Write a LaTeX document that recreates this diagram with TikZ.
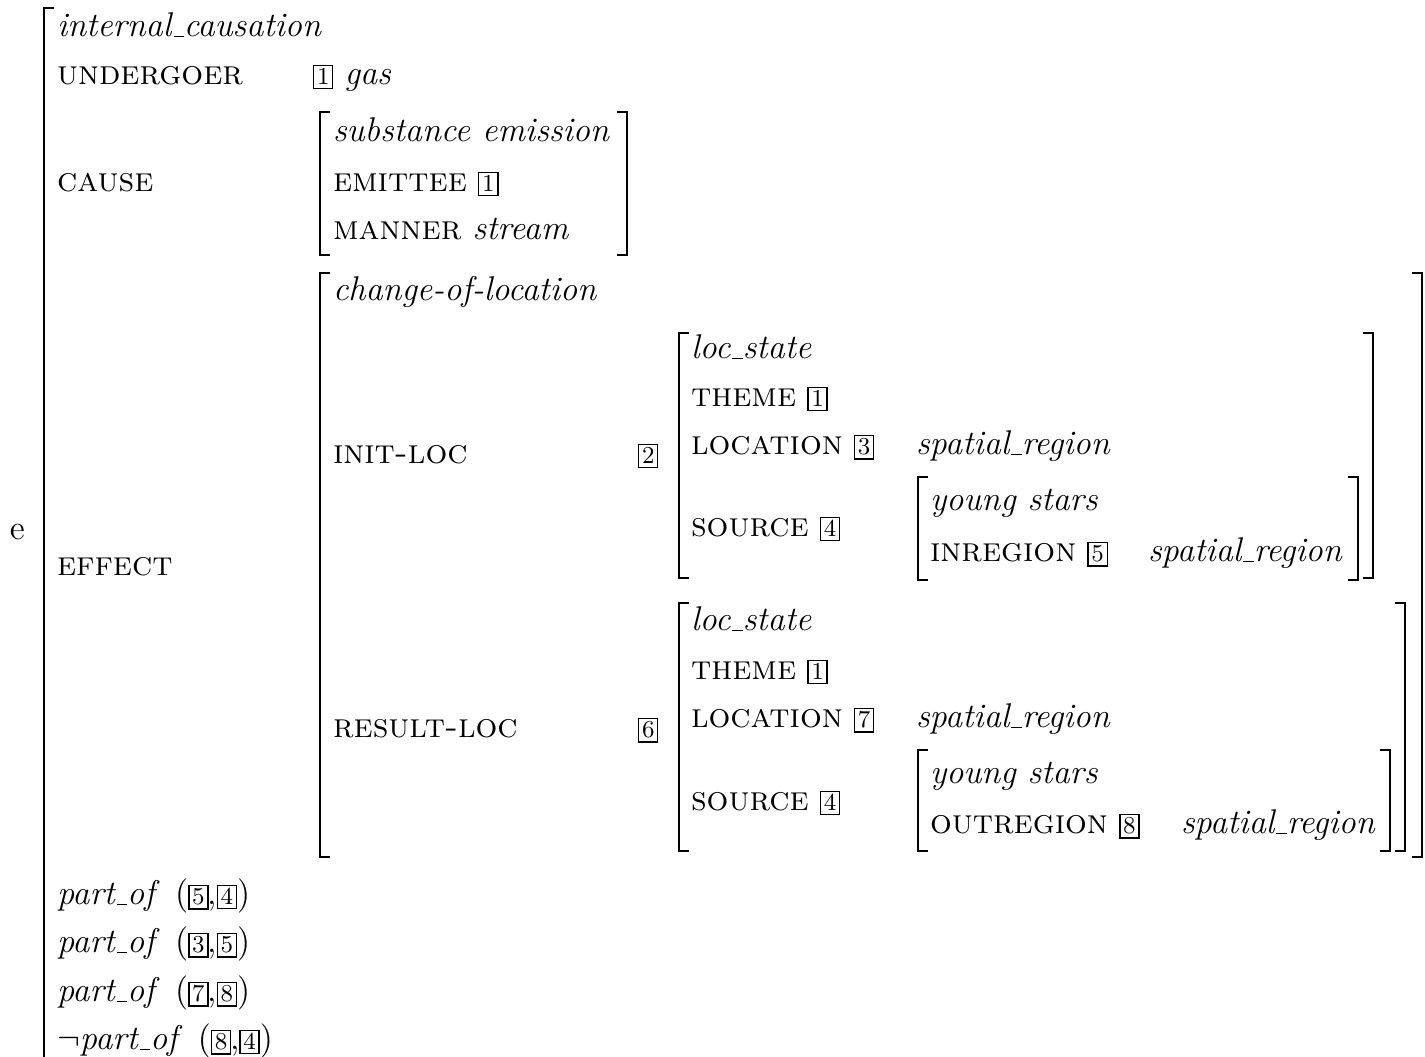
\documentclass[tikz,border=0pt]{standalone}
\usepackage{amssymb}
\newcommand{\tg}[1]{{\setlength{\fboxsep}{0.9pt}\setlength{\fboxrule}{0.5pt}\fbox{\fontsize{8.5}{9}\selectfont #1}}}
\newcommand{\us}{\kern.06em\vbox{\hrule width.3em}}
\newcommand{\ti}[1]{\textit{#1}}
\newcommand{\ft}[1]{\textsc{\MakeLowercase{#1}}}
\begin{document}
\begin{tikzpicture}[x=0.35pt,y=-0.35pt,
  lbl/.style={anchor=base west,inner sep=0pt,outer sep=0pt,font=\fontsize{12}{14}\selectfont},
  brk/.style={line width=0.75pt,line join=miter}]
\useasboundingbox (0,0) rectangle (1425,1057);
\newcommand{\lbr}[3]{\draw[brk] ({#1+10},#2) -- (#1,#2) -- (#1,#3) -- ({#1+10},#3);}
\newcommand{\rbr}[3]{\draw[brk] ({#1-10},#2) -- (#1,#2) -- (#1,#3) -- ({#1-10},#3);}
% outer
\draw[brk] (54,8) -- (44,8) -- (44,1070);
\node[lbl] (e) at (10,540) {e};
\node[lbl] (t0) at (57,37) {\ti{internal\us causation}};
\node[lbl] (und) at (57,85) {\ft{UNDERGOER}};
\node[lbl] (undv) at (313,85) {\tg{1} \ti{gas}};
\node[lbl] (cause) at (57,192) {\ft{CAUSE}};
\lbr{320}{112}{255}
\rbr{627}{112}{255}
\node[lbl] (c1) at (333,142) {\ti{substance emission}};
\node[lbl] (c2) at (333,192) {\ft{EMITTEE} \tg{1}};
\node[lbl] (c3) at (333,240) {\ft{MANNER} \ti{stream}};
\node[lbl] (eff) at (57,576) {\ft{EFFECT}};
\lbr{320}{273}{857}
\rbr{1422}{273}{857}
\node[lbl] (col) at (333,301) {\ti{change-of-location}};
\node[lbl] (init) at (333,464) {\ft{INIT-LOC}};
\node[lbl] (b2) at (638,464) {\tg{2}};
\lbr{679}{333}{578}
\rbr{1373}{333}{578}
\node[lbl] (i1) at (691,359) {\ti{loc\us state}};
\node[lbl] (i2) at (691,407) {\ft{THEME} \tg{1}};
\node[lbl] (i3) at (691,455) {\ft{LOCATION} \tg{3}};
\node[lbl] (i3v) at (916,455) {\ti{spatial\us region}};
\node[lbl] (i4) at (691,537) {\ft{SOURCE} \tg{4}};
\lbr{918}{477}{580}
\rbr{1358}{477}{580}
\node[lbl] (i5) at (930,511) {\ti{young stars}};
\node[lbl] (i6) at (930,562) {\ft{INREGION} \tg{5}};
\node[lbl] (i6v) at (1148,562) {\ti{spatial\us region}};
\node[lbl] (res) at (333,738) {\ft{RESULT-LOC}};
\node[lbl] (b6) at (638,738) {\tg{6}};
\lbr{679}{603}{851}
\rbr{1405}{603}{851}
\node[lbl] (r1) at (691,631) {\ti{loc\us state}};
\node[lbl] (r2) at (691,680) {\ft{THEME} \tg{1}};
\node[lbl] (r3) at (691,728) {\ft{LOCATION} \tg{7}};
\node[lbl] (r3v) at (916,728) {\ti{spatial\us region}};
\node[lbl] (r4) at (691,811) {\ft{SOURCE} \tg{4}};
\lbr{918}{750}{851}
\rbr{1390}{750}{851}
\node[lbl] (r5) at (930,784) {\ti{young stars}};
\node[lbl] (r6) at (930,834) {\ft{OUTREGION} \tg{8}};
\node[lbl] (r6v) at (1181,834) {\ti{spatial\us region}};
\node[lbl] (p1) at (57,905) {\ti{part\us of}\hspace{0.45em}(\tg{5}\kern-0.5pt,\tg{4})};
\node[lbl] (p2) at (57,953) {\ti{part\us of}\hspace{0.45em}(\tg{3}\kern-0.5pt,\tg{5})};
\node[lbl] (p3) at (57,1002) {\ti{part\us of}\hspace{0.45em}(\tg{7}\kern-0.5pt,\tg{8})};
\node[lbl] (p4) at (57,1050) {$\neg$\ti{part\us of}\hspace{0.45em}(\tg{8}\kern-0.5pt,\tg{4})};
\end{tikzpicture}
\end{document}
